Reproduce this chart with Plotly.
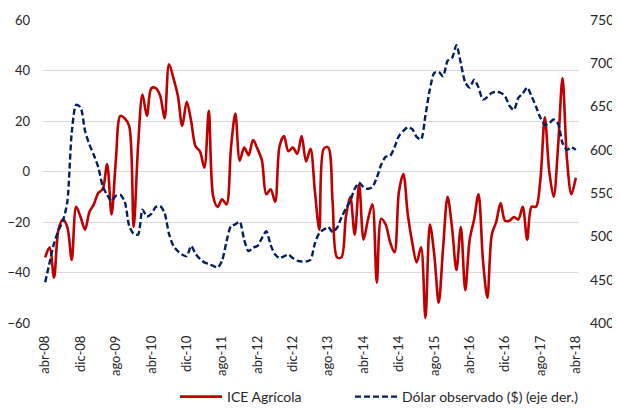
import plotly.graph_objects as go

# Monthly categories abr-08 .. abr-18
meses = ["ene", "feb", "mar", "abr", "may", "jun", "jul", "ago", "sep", "oct", "nov", "dic"]
categorias = []
y, m = 2008, 3
for _ in range(121):
    categorias.append(f"{meses[m]}-{str(y)[2:]}")
    m += 1
    if m == 12:
        m = 0
        y += 1

tick_labels = ["abr-08", "dic-08", "ago-09", "abr-10", "dic-10", "ago-11", "abr-12", "dic-12",
               "ago-13", "abr-14", "dic-14", "ago-15", "abr-16", "dic-16", "ago-17", "abr-18"]

ice_agricola = [-34, -30, -42, -23, -19, -22, -35, -14, -18, -23,
                -16, -13, -8.5, -7, 3, -17, 5, 22, 21, 18,
                -22, 10, 30.5, 22, 33, 33, 30, 21, 42.5, 37,
                30, 18, 27.6, 20, 10, 8, 1.5, 24, -10, -14,
                -11, -13, 9, 23, 4.3, 9.5, 6.5, 12.5, 9, 4.5,
                -9, -7, -12, 10, 14, 8, 9.5, 7, 14, 4,
                9, -8, -23, 9, 9.5, -12, -34, -34, -18, -10,
                -25, -5, -27, -19, -13, -44, -18.7, -21, -28, -32,
                -8, -1, -17, -28, -36, -30, -58, -21, -33, -52,
                -30, -10, -22, -39, -22, -47, -27, -19, -9, -35,
                -50, -25, -20, -12.5, -19.5, -19.5, -18, -19, -14, -27,
                -14, -14, -3, 21.5, 0, -10, 10, 37, 5, -9, -2.5]

dolar = [447, 470, 492, 507, 518, 540, 620, 652, 649, 622,
         606, 594, 580, 558, 548, 541, 547, 548, 540, 512,
         503, 502, 531, 523, 526, 534, 535, 527, 503, 489,
         483, 479, 477, 489, 480, 474, 470, 468, 466, 464,
         472, 494, 512, 514, 517, 496, 483, 487, 489, 498,
         506, 490, 479, 475, 477, 479, 475, 472, 471, 471,
         473, 492, 504, 508, 511, 505, 510, 522, 532, 541,
         555, 562, 557, 555, 557, 568, 583, 592, 593, 603,
         616, 622, 626, 624, 615, 612, 640, 670, 689, 690,
         685, 703, 706, 721, 700, 678, 672, 681, 672, 658,
         661, 666, 667, 666, 662, 651, 646, 660, 665, 672,
         662, 650, 637, 629, 631, 635, 630, 608, 600, 603, 600]

FONT = "Lato"
TXT = "#262626"

fig = go.Figure()
fig.add_trace(go.Scatter(
    x=categorias, y=ice_agricola, name="ICE Agrícola", mode="lines",
    line=dict(color="#C00000", width=2.6, shape="spline", smoothing=0.9),
    yaxis="y", legend="legend"))
fig.add_trace(go.Scatter(
    x=categorias, y=dolar, name="Dólar observado ($) (eje der.)", mode="lines",
    line=dict(color="#002060", width=2.4, dash="6px,3px", shape="spline", smoothing=0.7),
    yaxis="y2", legend="legend2"))

# The page body adds an 8px offset, so the figure is 612x400 and sits at (8, 8).
W, H = 612, 400
n = len(categorias)
leg_common = dict(orientation="h", xref="container", yref="container", xanchor="left",
                  y=11 / H, yanchor="middle", itemwidth=42,
                  font=dict(family=FONT, size=14, color=TXT), bgcolor="rgba(0,0,0,0)")
fig.update_layout(
    width=W, height=H,
    margin=dict(l=35, r=42, t=12, b=85, autoexpand=False),
    paper_bgcolor="white", plot_bgcolor="white",
    font=dict(family=FONT, size=13, color=TXT),
    showlegend=True,
    legend=dict(x=167 / W, **leg_common),
    legend2=dict(x=342 / W, **leg_common),
    xaxis=dict(type="category", range=[-0.5, n - 0.5], tickmode="array", tickvals=tick_labels,
               ticktext=tick_labels, tickangle=-90, ticks="", showgrid=False, showline=False,
               zeroline=False, ticklabelstandoff=9, automargin=False,
               tickfont=dict(family=FONT, size=13, color=TXT)),
    xaxis2=dict(overlaying="x", anchor="free", position=0.4983, range=[-0.5, n - 0.5],
                tickmode="array", tickvals=[k * 8 - 0.5 for k in range(16)],
                ticks="outside", ticklen=4, tickcolor="#D0D0D0", tickwidth=1,
                showticklabels=False, showgrid=False, zeroline=False, showline=False,
                automargin=False),
    yaxis=dict(range=[-60, 60], dtick=20, showgrid=True, gridcolor="#D9D9D9", gridwidth=1,
               zeroline=False, ticks="", ticklabelstandoff=12, automargin=False,
               tickfont=dict(family=FONT, size=13, color=TXT)),
    yaxis2=dict(range=[400, 750], dtick=50, overlaying="y", side="right", showgrid=False,
                zeroline=False, ticks="", ticklabelstandoff=11, automargin=False,
                tickfont=dict(family=FONT, size=14, color=TXT)),
)

fig.write_html("out.html")
